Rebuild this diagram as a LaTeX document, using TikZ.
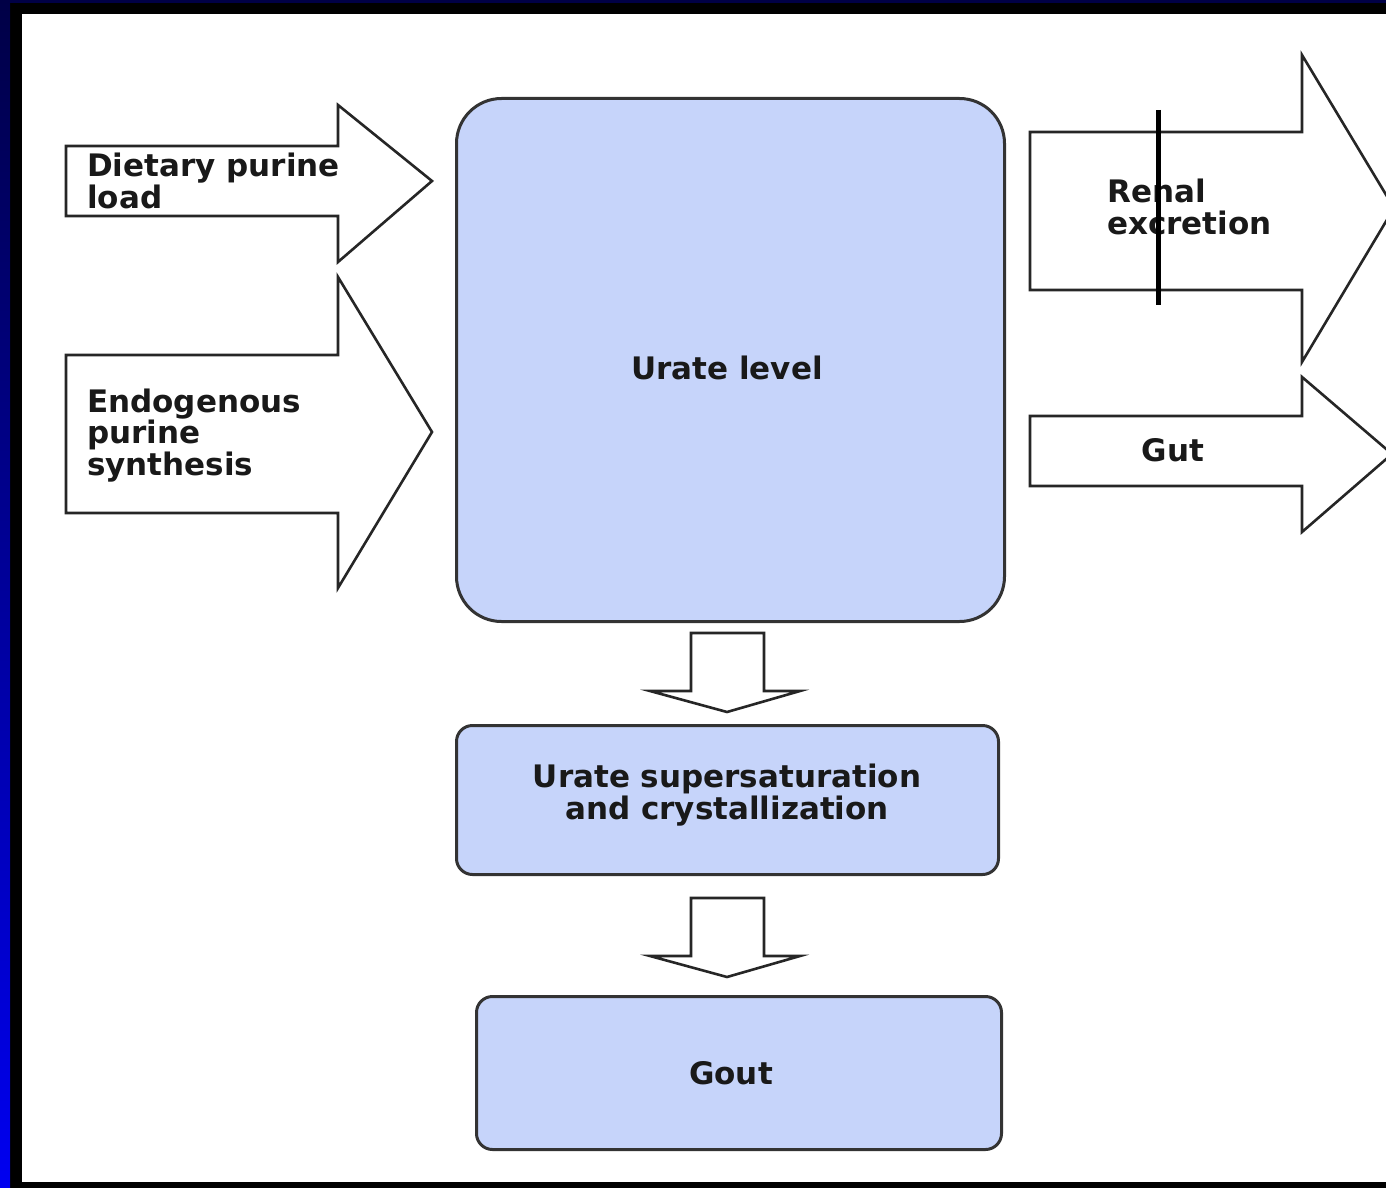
\documentclass[tikz,border=0pt]{standalone}
\usepackage{fontspec}
\setmainfont{DejaVu Sans}
\begin{document}
\begin{tikzpicture}[x=1pt,y=-1pt,
  outl/.style={draw=black!85,line width=2.6pt,line join=miter},
  blockarrow/.style={outl,fill=white},
  boxstyle/.style={draw=black!80,line width=3pt,fill=boxblue},
  lbl/.style={font=\fontsize{31}{31.5}\selectfont\bfseries,inner sep=0pt,text=black!90}]
\definecolor{boxblue}{RGB}{198,212,250}
\definecolor{navy}{RGB}{0,0,70}
\useasboundingbox (0,0) rectangle (1386,1188);
% frame
\fill[black] (0,0) rectangle (1386,1188);
\shade[top color=navy,bottom color={rgb,255:red,0;green,0;blue,240}] (0,0) rectangle (10,1188);
\fill[navy] (0,0) rectangle (1386,3);
\fill[white] (22,14) rectangle (1386,1182);
\begin{scope}
\clip (22,14) rectangle (1386,1182);
% left block arrows
\draw[blockarrow] (66,146) -- (338,146) -- (338,105) -- (432,181) -- (338,262) -- (338,216) -- (66,216) -- cycle;
\draw[blockarrow] (66,355) -- (338,355) -- (338,277) -- (432,432) -- (338,588) -- (338,513) -- (66,513) -- cycle;
% right block arrows
\draw[blockarrow] (1030,132) -- (1302,132) -- (1302,55) -- (1394,208) -- (1302,362) -- (1302,290) -- (1030,290) -- cycle;
\draw[blockarrow] (1030,416) -- (1302,416) -- (1302,377) -- (1392,454) -- (1302,532) -- (1302,486) -- (1030,486) -- cycle;
\end{scope}
% boxes
\node[boxstyle,rounded corners=45pt,minimum width=548pt,minimum height=523pt,anchor=north west] (urate) at (455,97) {};
\node[boxstyle,rounded corners=16pt,minimum width=542pt,minimum height=149pt,anchor=north west] (super) at (455,724) {};
\node[boxstyle,rounded corners=16pt,minimum width=525pt,minimum height=153pt,anchor=north west] (gout) at (475,995) {};
% down block arrows
\draw[blockarrow] (691,633) -- (764,633) -- (764,691) -- (800,691) -- (727,712) -- (650,691) -- (691,691) -- cycle;
\draw[blockarrow] (691,898) -- (764,898) -- (764,956) -- (800,956) -- (727,977) -- (650,956) -- (691,956) -- cycle;
% labels (base anchor = baseline of last line)
\node[lbl,align=left,anchor=base west] (diet) at (87,208) {Dietary purine\\load};
\node[lbl,align=left,anchor=base west] (endo) at (87,475) {Endogenous\\purine\\synthesis};
\node[lbl,align=left,anchor=base west] (renal) at (1107,234) {Renal\\excretion};
\node[lbl,anchor=base] (gut) at (1173,461) {Gut};
\node[lbl,anchor=base] (urlbl) at (727,379) {Urate level};
\node[lbl,align=center,anchor=base] (suplbl) at (727,819) {Urate supersaturation\\and crystallization};
\node[lbl,anchor=base] (goutlbl) at (731,1084) {Gout};
% vertical bar
\coordinate (bartop) at (1158,110);
\coordinate (barbot) at (1158,305);
\draw[black,line width=5pt] (bartop) -- (barbot);
\end{tikzpicture}
\end{document}
